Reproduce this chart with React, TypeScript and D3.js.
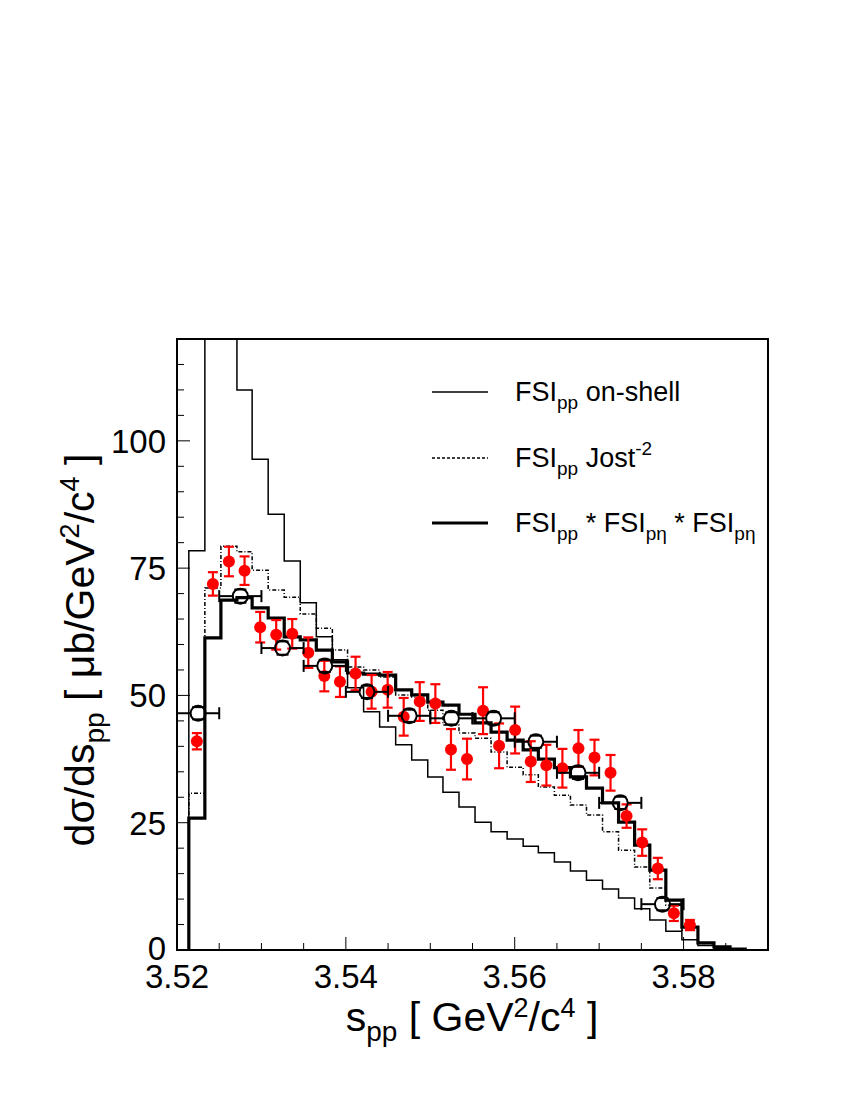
import React from 'react';
import * as d3 from 'd3';

// bin edges of the s_pp histograms (GeV^2/c^4)
const binEdges = [
  3.5214, 3.5233, 3.5252, 3.5271, 3.5289, 3.5308, 3.5327, 3.5346, 3.5365, 3.5384,
  3.5402, 3.5421, 3.5440, 3.5459, 3.5478, 3.5497, 3.5515, 3.5534, 3.5553, 3.5572,
  3.5591, 3.5610, 3.5628, 3.5647, 3.5666, 3.5685, 3.5704, 3.5723, 3.5742, 3.5760,
  3.5779, 3.5798, 3.5817, 3.5836, 3.5855, 3.5873,
];

// FSI_pp on-shell (thin solid)
const onShell = [
  78.4, 190, 145, 110.0, 96.4, 85.6, 76.4, 68.2, 61.5, 57.0,
  51.5, 46.8, 43.8, 40.3, 37.3, 34.0, 31.0, 28.1, 25.1, 23.2,
  21.8, 20.4, 19.1, 17.3, 15.5, 13.7, 12.0, 10.2, 8.1, 5.9,
  3.7, 2.0, 0.9, 0.3, 0.1,
];

// FSI_pp Jost^-2 (dashed)
const jost = [
  30.8, 71.1, 79.3, 78.2, 74.6, 70.7, 69.3, 66.0, 63.2, 58.9,
  55.6, 55.0, 53.6, 50.1, 49.7, 47.1, 44.2, 42.6, 41.6, 38.9,
  35.9, 34.4, 32.0, 30.4, 28.5, 26.5, 23.2, 19.6, 16.3, 12.2,
  8.8, 3.9, 1.3, 0.4, 0.1,
];

// FSI_pp * FSI_peta * FSI_peta (thick solid)
const fullFsi = [
  25.9, 61.3, 68.7, 69.2, 67.2, 65.2, 61.5, 60.9, 58.9, 56.6,
  54.4, 54.2, 54.0, 51.1, 50.1, 48.7, 48.1, 46.3, 44.6, 42.8,
  41.2, 39.3, 37.5, 35.8, 34.0, 31.8, 28.9, 25.1, 20.6, 15.7,
  9.8, 4.5, 1.4, 0.6, 0.2,
];

// red filled points, one per histogram bin
const redY = [
  41.0, 71.9, 76.3, 74.5, 63.4, 61.9, 62.1, 58.4, 53.8, 52.7,
  54.3, 50.7, 51.1, 45.8, 48.8, 48.4, 39.4, 37.5, 47.0, 40.1,
  43.2, 37.0, 36.3, 35.7, 39.6, 37.8, 34.8, 26.3, 21.1, 16.0,
  7.2, 4.9,
];
const redErr = [
  1.6, 2.3, 2.9, 2.8, 3.0, 2.9, 2.9, 3.0, 3.0, 3.0,
  3.3, 3.3, 3.5, 3.7, 3.8, 3.8, 4.0, 4.0, 4.6, 4.4,
  4.6, 4.0, 4.0, 3.8, 3.6, 3.5, 3.5, 2.3, 2.6, 2.1,
  1.5, 1.0,
];

// open circles
const openX = [3.5225, 3.5275, 3.5325, 3.5375, 3.5425, 3.5475, 3.5525, 3.5575, 3.5625, 3.5675, 3.5725, 3.5775];
const openY = [46.5, 69.5, 59.3, 55.8, 50.7, 46.0, 45.5, 45.5, 40.9, 34.8, 28.9, 9.0];
const openXErr = [0.0025, 0.0025, 0.0025, 0.0025, 0.0025, 0.0025, 0.0025, 0.0025, 0.0025, 0.0025, 0.0025, 0.0025];
const openYErr = [1.2, 1.3, 1.3, 1.2, 1.2, 1.2, 1.2, 1.2, 1.2, 1.2, 1.2, 1.2];

const xLabels = [3.52, 3.54, 3.56, 3.58];
const yLabels = [0, 25, 50, 75, 100];

const font = '"Liberation Sans", Arial, Helvetica, sans-serif';

const App = () => {
  const left = 177, right = 768, top = 339, bottom = 950;

  const x = d3.scaleLinear().domain([3.52, 3.59]).range([left, right]);
  const y = d3.scaleLinear().domain([0, 120]).range([bottom, top]);

  // ROOT style step histogram
  const stepPath = (vals: number[]) => {
    const path = d3.path();
    path.moveTo(x(binEdges[0]), y(0));
    vals.forEach((v, i) => {
      path.lineTo(x(binEdges[i]), y(v));
      path.lineTo(x(binEdges[i + 1]), y(v));
    });
    path.lineTo(x(binEdges[vals.length]), y(0));
    return path.toString();
  };

  const xMinor = x.ticks(14);
  const yMinor = y.ticks(24);

  const rR = 6;
  const rO = 7.5;

  const legend = [
    { dy: 392, w: 1.5, dash: undefined as string | undefined },
    { dy: 458, w: 1.3, dash: '3 2' },
    { dy: 523, w: 3.2, dash: undefined },
  ];

  return (
    <svg width={850} height={1100} style={{ position: 'absolute', left: 0, top: 0, background: '#fff' }}>
      <defs>
        <clipPath id="plot">
          <rect x={left} y={top} width={right - left} height={bottom - top} />
        </clipPath>
      </defs>

      <g clipPath="url(#plot)" fill="none" stroke="#000">
        <path d={stepPath(onShell)} strokeWidth={1.5} />
        <path d={stepPath(jost)} strokeWidth={1.5} strokeDasharray="4 2 1 2" />
        <path d={stepPath(fullFsi)} strokeWidth={3.2} />
      </g>

      {/* red data points */}
      <g stroke="#ff0000" strokeWidth={2.2} fill="#ff0000">
        {redY.map((v, i) => {
          const cx = x((binEdges[i] + binEdges[i + 1]) / 2);
          const cy = y(v);
          const y1 = y(v + redErr[i]);
          const y2 = y(v - redErr[i]);
          return (
            <g key={i}>
              <line x1={cx} x2={cx} y1={y1} y2={y2} />
              <line x1={cx - 5} x2={cx + 5} y1={y1} y2={y1} />
              <line x1={cx - 5} x2={cx + 5} y1={y2} y2={y2} />
              <circle cx={cx} cy={cy} r={rR} stroke="none" />
            </g>
          );
        })}
      </g>

      {/* open circles */}
      <g stroke="#000" strokeWidth={2} fill="none">
        {openY.map((v, i) => {
          const cx = x(openX[i]);
          const cy = y(v);
          const xl = x(openX[i] - openXErr[i]);
          const xr = x(openX[i] + openXErr[i]);
          const yt = y(v + openYErr[i]);
          const yb = y(v - openYErr[i]);
          return (
            <g key={i}>
              <line x1={xl} x2={cx - rO} y1={cy} y2={cy} />
              <line x1={cx + rO} x2={xr} y1={cy} y2={cy} />
              <line x1={xl} x2={xl} y1={cy - 6} y2={cy + 6} />
              <line x1={xr} x2={xr} y1={cy - 6} y2={cy + 6} />
              <line x1={cx - 6} x2={cx + 6} y1={yt} y2={yt} />
              <line x1={cx - 6} x2={cx + 6} y1={yb} y2={yb} />
              <circle cx={cx} cy={cy} r={rO} />
            </g>
          );
        })}
      </g>

      {/* frame */}
      <rect x={left} y={top} width={right - left} height={bottom - top} fill="none" stroke="#000" strokeWidth={2} />

      {/* ticks */}
      <g stroke="#000" strokeWidth={1}>
        {xMinor.map((t, i) => {
          const major = xLabels.some(l => Math.abs(l - t) < 1e-6);
          return <line key={i} x1={x(t)} x2={x(t)} y1={bottom} y2={bottom - (major ? 13 : 7)} />;
        })}
        {yMinor.map((t, i) => {
          const major = t % 25 === 0;
          return <line key={i} x1={left} x2={left + (major ? 13 : 7)} y1={y(t)} y2={y(t)} />;
        })}
      </g>

      <g fontFamily={font} fontSize={33} fill="#000">
        {xLabels.map(t => (
          <text key={t} x={x(t)} y={988} textAnchor="middle">{d3.format('.2f')(t)}</text>
        ))}
        {yLabels.map(t => (
          <text key={t} x={166} y={y(t) + (t === 0 ? 10 : 12)} textAnchor="end">{t}</text>
        ))}
      </g>

      {/* axis titles */}
      <text x={472} y={1031} textAnchor="middle" fontFamily={font} fontSize={41} fill="#000">
        s<tspan fontSize={28} dy={10}>pp</tspan>
        <tspan dy={-10}> [ GeV</tspan>
        <tspan fontSize={27} dy={-14}>2</tspan>
        <tspan dy={14}>/c</tspan>
        <tspan fontSize={27} dy={-14}>4</tspan>
        <tspan dy={14}> ]</tspan>
      </text>
      <text transform="translate(94,650) rotate(-90)" textAnchor="middle" fontFamily={font} fontSize={41} fill="#000">
        dσ/ds<tspan fontSize={28} dy={10}>pp</tspan>
        <tspan dy={-10}> [ μb/GeV</tspan>
        <tspan fontSize={27} dy={-15}>2</tspan>
        <tspan dy={15}>/c</tspan>
        <tspan fontSize={27} dy={-15}>4</tspan>
        <tspan dy={15}> ]</tspan>
      </text>

      {/* legend */}
      <g>
        {legend.map((l, i) => (
          <line key={i} x1={432} x2={488} y1={l.dy} y2={l.dy} stroke="#000" strokeWidth={l.w} strokeDasharray={l.dash} />
        ))}
      </g>
      <g fontFamily={font} fontSize={27} fill="#000">
        <text x={515} y={401}>
          FSI<tspan fontSize={19} dy={8}>pp</tspan><tspan dy={-8}> on-shell</tspan>
        </text>
        <text x={515} y={467}>
          FSI<tspan fontSize={19} dy={8}>pp</tspan><tspan dy={-8}> Jost</tspan>
          <tspan fontSize={19} dy={-12}>-2</tspan>
        </text>
        <text x={515} y={532}>
          FSI<tspan fontSize={19} dy={8}>pp</tspan><tspan dy={-8}> * FSI</tspan>
          <tspan fontSize={19} dy={8}>pη</tspan><tspan dy={-8}> * FSI</tspan>
          <tspan fontSize={19} dy={8}>pη</tspan>
        </text>
      </g>
    </svg>
  );
};

export default App;
